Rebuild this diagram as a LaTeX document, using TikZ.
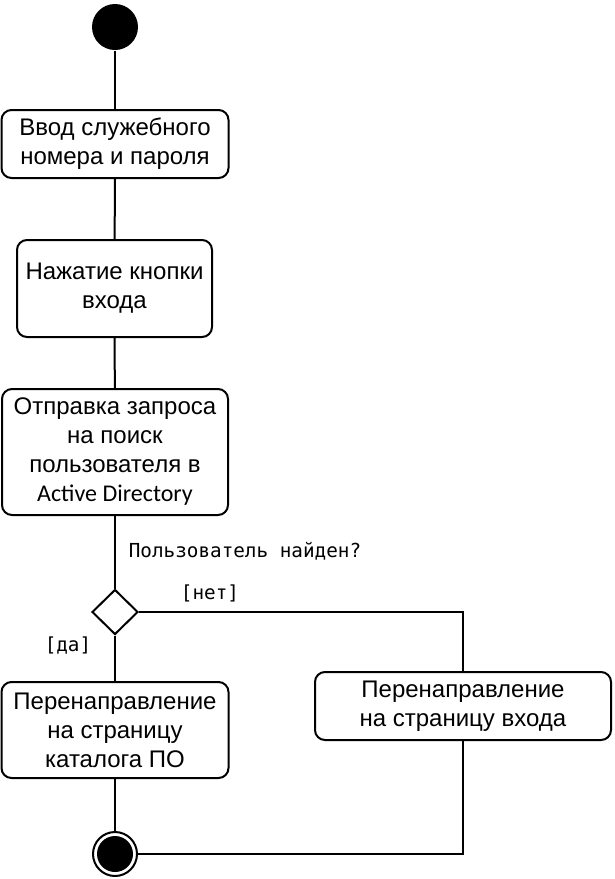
\documentclass[tikz,border=0pt]{standalone}
\usepackage{fontspec}
\setmainfont{Liberation Sans}
\newfontfamily\adfont{Carlito}
\newfontfamily\gostfont{DejaVu Sans Mono}
\usetikzlibrary{shapes.geometric}
\begin{document}
\begin{tikzpicture}[x=1pt,y=-1pt, line width=2pt,
 act/.style={draw, rounded corners=10pt, align=center, font=\fontsize{24}{29}\selectfont, inner sep=0pt},
 lbl/.style={font=\gostfont\fontsize{19.3}{22}\selectfont, inner sep=0pt},
 conn/.style={line width=2pt}]
\useasboundingbox (0,0) rectangle (614,879);
\node[circle, fill, minimum size=46pt, inner sep=0pt] (start) at (115,27) {};
\node[act, minimum width=227pt, minimum height=68pt] (a1) at (115,144) {Ввод служебного\\номера и пароля};
\node[act, minimum width=195pt, minimum height=97pt] (a2) at (114.5,288.5) {Нажатие кнопки\\входа};
\node[act, minimum width=226pt, minimum height=126pt] (a3) at (115,452) {Отправка запроса\\на поиск\\пользователя в\\{\adfont\fontsize{24}{29}\selectfont Active Directory}};
\node[diamond, draw, minimum width=46pt, minimum height=45pt, inner sep=0pt] (dec) at (115,612) {};
\node[act, minimum width=227pt, minimum height=96pt] (a4) at (115,730) {Перенаправление\\на страницу\\каталога ПО};
\node[act, minimum width=296pt, minimum height=68pt] (a5) at (463,706) {Перенаправление\\на страницу входа};
\node[circle, draw, minimum size=44pt, inner sep=0pt] (end) at (115,854) {};
\fill (end.center) circle (18pt);
\node[lbl] (q) at (245,551) {Пользователь найден?};
\node[lbl] (no) at (210,593) {[нет]};
\node[lbl] (yes) at (68,646) {[да]};
\draw[conn] (start) -- (a1);
\draw[conn] (a1) -- (a2);
\draw[conn] (a2) -- (a3);
\draw[conn] (a3) -- (dec);
\draw[conn] (dec) -- (a4);
\draw[conn] (a4) -- (end);
\draw[conn] (dec.east) -| (a5.north);
\draw[conn] (a5.south) |- (end.east);
\end{tikzpicture}
\end{document}
